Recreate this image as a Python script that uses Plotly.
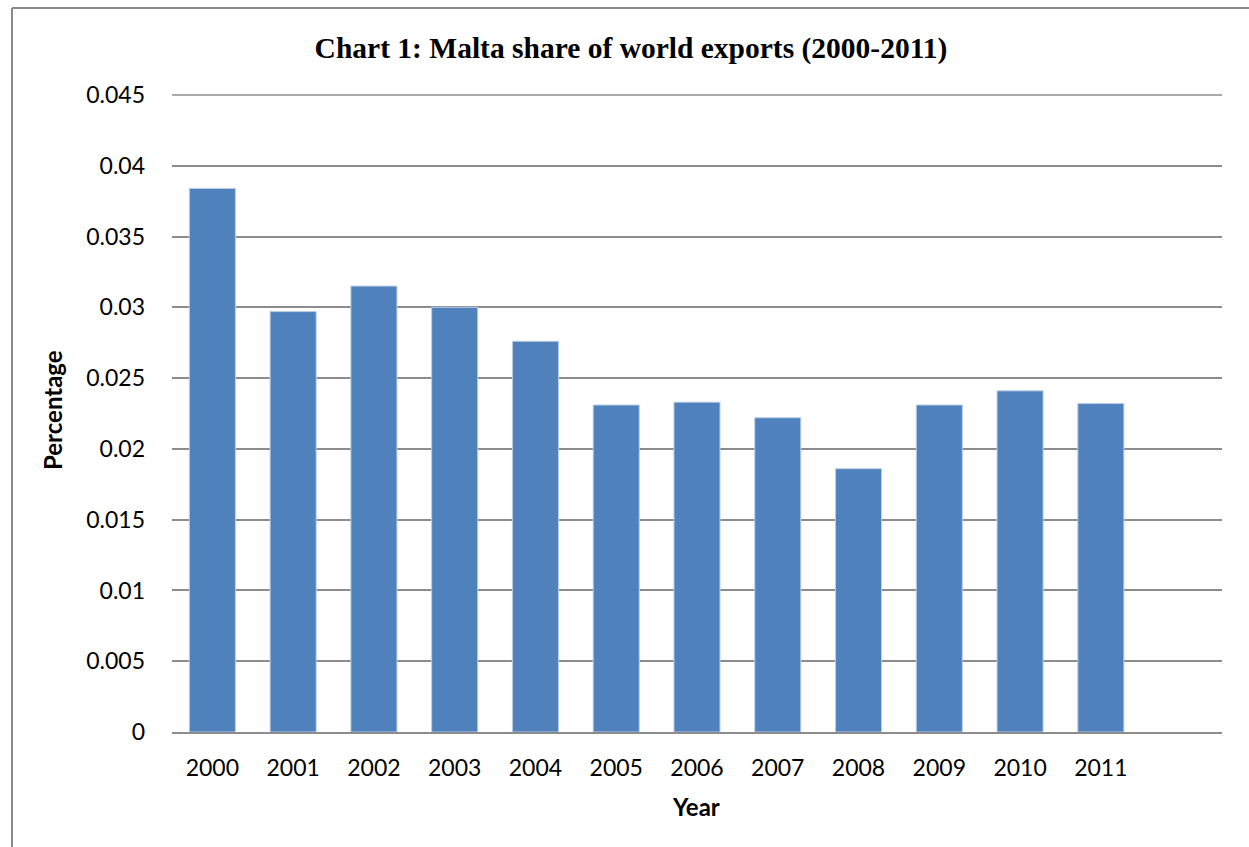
import plotly.graph_objects as go

# Malta's share of world exports, by year
years = ["2000", "2001", "2002", "2003", "2004", "2005",
         "2006", "2007", "2008", "2009", "2010", "2011"]
share = [0.0384, 0.0297, 0.0315, 0.0300, 0.0276, 0.0231,
         0.0233, 0.0222, 0.0186, 0.0231, 0.0241, 0.0232]

y_ticks = [0, 0.005, 0.01, 0.015, 0.02, 0.025, 0.03, 0.035, 0.04, 0.045]
y_tick_text = ["0", "0.005", "0.01", "0.015", "0.02", "0.025",
               "0.03", "0.035", "0.04", "0.045"]

W, H = 1249, 847
L, R, T, B = 172, 27, 95, 115
pw, ph = W - L - R, H - T - B

def px_x(x):
    return (x - L) / pw

def px_y(y):
    return (H - B - y) / ph

tick_font = dict(family="Lato, 'Open Sans', sans-serif", size=23, color="#000000")
title_font = dict(family="Lato, 'Open Sans', sans-serif", size=24, color="#000000")
grid_col = "#8c8c8c"

fig = go.Figure(go.Bar(
    x=years,
    y=share,
    marker=dict(color="#4F81BD", line=dict(color="#B9CDE5", width=1)),
))

fig.update_layout(
    width=W, height=H,
    margin=dict(l=L, r=R, t=T, b=B),
    paper_bgcolor="#ffffff",
    plot_bgcolor="#ffffff",
    showlegend=False,
    bargap=0.43,
    title=dict(
        text="<b>Chart 1: Malta share of world exports (2000-2011)</b>",
        font=dict(family="'Liberation Serif', 'Times New Roman', serif", size=29.5, color="#000000"),
        x=px_x(631), xref="paper", xanchor="center",
        y=1 - 48 / H, yref="container", yanchor="middle",
    ),
    xaxis=dict(
        type="category",
        range=[-0.5, 12.5],
        showgrid=False,
        showline=True, linecolor=grid_col, linewidth=2,
        ticks="", tickfont=tick_font, ticklabelstandoff=14,
        fixedrange=True,
    ),
    yaxis=dict(
        range=[0, y_ticks[-1]],
        tickvals=y_ticks, ticktext=y_tick_text,
        showgrid=True, gridcolor=grid_col, gridwidth=1.6,
        zeroline=False, showline=False,
        ticks="", tickfont=tick_font, ticklabelstandoff=26,
        fixedrange=True,
    ),
    annotations=[
        dict(text="<b>Year</b>", x=px_x(696), y=px_y(806), xref="paper", yref="paper",
             showarrow=False, xanchor="center", yanchor="middle", font=title_font),
        dict(text="<b>Percentage</b>", x=px_x(52), y=px_y(410), xref="paper", yref="paper",
             showarrow=False, xanchor="center", yanchor="middle", textangle=-90,
             font=title_font),
    ],
    shapes=[
        # gridline along the top of the value range (top edge of plot area)
        dict(type="line", xref="paper", yref="paper",
             x0=0, x1=1, y0=1, y1=1,
             line=dict(color=grid_col, width=1.6)),
        # chart frame (top and left edges)
        dict(type="line", xref="paper", yref="paper",
             x0=px_x(12), x1=px_x(1260), y0=px_y(8), y1=px_y(8),
             line=dict(color="#8a8a8a", width=2)),
        dict(type="line", xref="paper", yref="paper",
             x0=px_x(12), x1=px_x(12), y0=px_y(8), y1=px_y(860),
             line=dict(color="#8a8a8a", width=2)),
    ],
)

fig.write_html("out.html")
